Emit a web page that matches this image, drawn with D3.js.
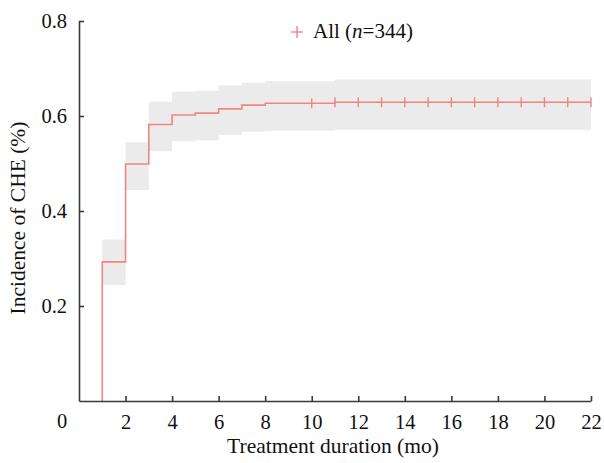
<!DOCTYPE html>
<html>
<head>
<meta charset="utf-8">
<script src="https://cdn.jsdelivr.net/npm/d3@7"></script>
<style>
  body { margin: 0; background: #fff; }
  text { font-family: "Liberation Serif", "Times New Roman", serif; fill: #111; }
</style>
</head>
<body>
<svg id="chart" width="604" height="463"></svg>
<script>
// step times (months) and cumulative incidence, with 95% CI band
var times    = [1, 2, 3, 4, 5, 6, 7, 8, 11, 22];
var estimate = [0.293, 0.499, 0.582, 0.602, 0.606, 0.615, 0.623, 0.627, 0.629, 0.629];
var lower    = [0.244, 0.444, 0.526, 0.547, 0.549, 0.560, 0.567, 0.569, 0.571, 0.571];
var upper    = [0.340, 0.545, 0.630, 0.651, 0.653, 0.665, 0.670, 0.673, 0.677, 0.677];
var censored = [10, 11, 12, 13, 14, 15, 16, 17, 18, 19, 20, 21, 22];

var xTicks = [2, 4, 6, 8, 10, 12, 14, 16, 18, 20, 22];
var yTicks = [0.2, 0.4, 0.6, 0.8];
var legendLabel = "All";
var legendN = "344";

var lineColor = "#f0867e";
var bandColor = "#ebebeb";
var axisColor = "#3a3a3a";

var svg = d3.select("#chart");

var x = d3.scaleLinear().domain([0, 22]).range([79, 591]);
var y = d3.scaleLinear().domain([0, 0.8]).range([401, 21]);

var steps = times.map(function(t, i) {
    return { t: t, est: estimate[i], lo: lower[i], hi: upper[i] };
});

// confidence band
var band = d3.area()
    .curve(d3.curveStepAfter)
    .x(function(d) { return x(d.t); })
    .y0(function(d) { return y(d.lo); })
    .y1(function(d) { return y(d.hi); });

svg.append("path")
    .datum(steps)
    .attr("d", band)
    .attr("fill", bandColor);

// step curve, starting from zero at the first event time
var linePoints = [{ t: times[0], est: 0 }].concat(steps);

var line = d3.line()
    .curve(d3.curveStepAfter)
    .x(function(d) { return x(d.t); })
    .y(function(d) { return y(d.est); });

svg.append("path")
    .datum(linePoints)
    .attr("d", line)
    .attr("fill", "none")
    .attr("stroke", lineColor)
    .attr("stroke-width", 1.6);

// censor marks
function valueAt(t) {
    var v = 0;
    steps.forEach(function(s) { if (s.t <= t) v = s.est; });
    return v;
}

svg.selectAll(".censor")
    .data(censored)
    .enter().append("line")
    .attr("class", "censor")
    .attr("x1", function(d) { return x(d); })
    .attr("x2", function(d) { return x(d); })
    .attr("y1", function(d) { return y(valueAt(d)) - 5; })
    .attr("y2", function(d) { return y(valueAt(d)) + 5; })
    .attr("stroke", lineColor)
    .attr("stroke-width", 1.4);

// axes
var xAxis = svg.append("g")
    .attr("transform", "translate(0," + y(0) + ")")
    .call(d3.axisBottom(x).tickValues(xTicks).tickSize(-5).tickPadding(13).tickSizeOuter(0));

var yAxis = svg.append("g")
    .attr("transform", "translate(" + x(0) + ",0)")
    .call(d3.axisLeft(y).tickValues(yTicks).tickSize(-5).tickPadding(12).tickSizeOuter(0)
        .tickFormat(d3.format(".1f")));

[xAxis, yAxis].forEach(function(g) {
    g.select(".domain").attr("stroke", axisColor).attr("stroke-width", 1.6);
    g.selectAll(".tick line").attr("stroke", axisColor).attr("stroke-width", 1.6);
    g.selectAll(".tick text")
        .attr("font-size", 20.5)
        .attr("font-family", "Liberation Serif, Times New Roman, serif")
        .attr("fill", "#111");
});

// origin label sits left of the y axis
svg.append("text")
    .attr("x", 62)
    .attr("y", 428)
    .attr("text-anchor", "middle")
    .attr("font-size", 20.5)
    .text("0");

// axis titles
svg.append("text")
    .attr("x", 333)
    .attr("y", 453)
    .attr("text-anchor", "middle")
    .attr("font-size", 21.5)
    .text("Treatment duration (mo)");

svg.append("text")
    .attr("transform", "translate(25," + 218 + ") rotate(-90)")
    .attr("text-anchor", "middle")
    .attr("font-size", 21.5)
    .text("Incidence of CHE (%)");

// legend
var legend = svg.append("g").attr("transform", "translate(297,32)");

legend.append("line")
    .attr("x1", -6).attr("x2", 6).attr("y1", 0).attr("y2", 0)
    .attr("stroke", lineColor).attr("stroke-width", 1.4);
legend.append("line")
    .attr("x1", 0).attr("x2", 0).attr("y1", -6).attr("y2", 6)
    .attr("stroke", lineColor).attr("stroke-width", 1.4);

var lt = legend.append("text")
    .attr("x", 16)
    .attr("y", 6)
    .attr("font-size", 21);
lt.append("tspan").text(legendLabel + " (");
lt.append("tspan").attr("font-style", "italic").text("n");
lt.append("tspan").text("=" + legendN + ")");
</script>
</body>
</html>
